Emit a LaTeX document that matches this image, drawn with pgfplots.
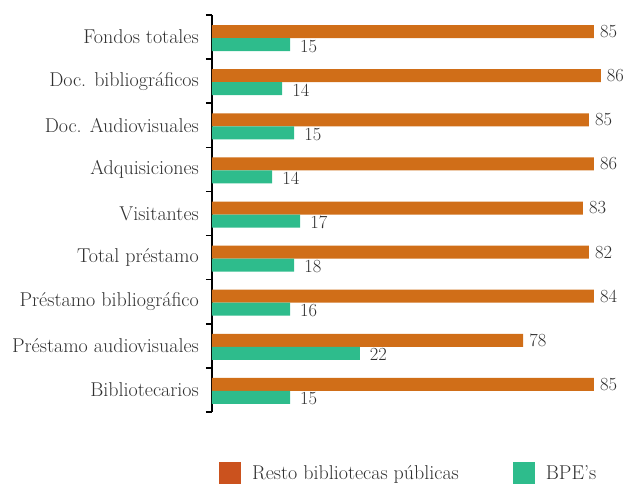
\documentclass[border=0pt]{standalone}
\usepackage{pgfplots}
\pgfplotsset{compat=1.18}
\usepackage{pgfplotstable}

\definecolor{resto}{HTML}{D06E18}
\definecolor{restoleg}{HTML}{CB521E}
\definecolor{bpe}{HTML}{2EBC8C}
\definecolor{txt}{HTML}{303030}

% bar lengths as drawn, labels as printed
\pgfplotstableread{
y len lab
0 83.2 85
1 84.7 86
2 82.1 85
3 83.2 86
4 80.8 83
5 82.1 82
6 83.2 84
7 67.8 78
8 83.2 85
}\resto

\pgfplotstableread{
y len lab
0 17.0 15
1 15.3 14
2 17.9 15
3 13.1 14
4 19.2 17
5 17.9 18
6 17.0 16
7 32.2 22
8 17.0 15
}\bpe

\begin{document}
\begin{tikzpicture}
\path[use as bounding box] (0,0) rectangle (630pt,485pt);
\begin{axis}[
  at={(212pt,73pt)}, anchor=south west,
  scale only axis, width=417.7pt, height=397pt,
  xmin=0, xmax=91, ymin=-0.5, ymax=8.5, y dir=reverse,
  axis x line=none, axis y line*=left,
  y axis line style={line width=1.6pt, black},
  ytick={0,...,8},
  yticklabels={Fondos totales, Doc. bibliográficos, Doc. Audiovisuales,
    Adquisiciones, Visitantes, Total préstamo, Préstamo bibliográfico,
    Préstamo audiovisuales, Bibliotecarios},
  major tick length=0pt,
  minor ytick={-0.5,0.5,...,8.5},
  minor tick length=6pt, tick align=outside,
  minor tick style={line width=1.6pt, black},
  yticklabel style={font=\fontsize{20}{23}\selectfont, text=txt, inner sep=0pt, xshift=-13pt},
  xbar, bar width=13pt,
  nodes near coords, point meta=explicit symbolic,
  clip=false,
  legend columns=2,
  legend style={draw=none, fill=none, inner sep=0pt, anchor=west,
    at={(0.0168,-0.1537)},
    font=\fontsize{20}{23}\selectfont, text=txt,
    nodes={inner sep=0pt},
    /tikz/every odd column/.append style={column sep=11pt},
    /tikz/every even column/.append style={column sep=54pt}},
]
\addplot[fill=resto, draw=none, bar shift=5.5pt,
  nodes near coords style={font=\fontsize{18.5}{21}\selectfont, text=txt, inner sep=0pt, anchor=west, xshift=6pt},
  legend image code/.code={\fill[restoleg] (0pt,-11pt) rectangle (22pt,11pt);}]
  table[x=len, y=y, meta=lab] {\resto};
\addlegendentry{Resto bibliotecas públicas}
\addplot[fill=bpe, draw=none, bar shift=-7.5pt,
  nodes near coords style={font=\fontsize{18.5}{21}\selectfont, text=txt, inner sep=0pt, anchor=west, xshift=10pt, yshift=-1.5pt},
  legend image code/.code={\fill[bpe] (0pt,-11pt) rectangle (22pt,11pt);}]
  table[x=len, y=y, meta=lab] {\bpe};
\addlegendentry{BPE’s}
\end{axis}
\end{tikzpicture}
\end{document}
